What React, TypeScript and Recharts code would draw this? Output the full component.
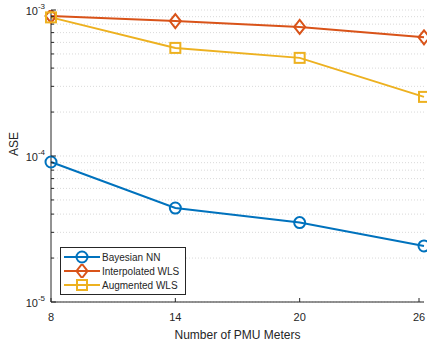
import { LineChart, Line, XAxis, YAxis, CartesianGrid, Legend } from "recharts"

const meters = [8, 14, 20, 26]
const bayesianNN = [9.1e-5, 4.4e-5, 3.5e-5, 2.42e-5]
const interpolatedWLS = [9.1e-4, 8.4e-4, 7.65e-4, 6.5e-4]
const augmentedWLS = [8.9e-4, 5.5e-4, 4.7e-4, 2.54e-4]

const yTicks = [
  1e-5, 2e-5, 3e-5, 4e-5, 5e-5, 6e-5, 7e-5, 8e-5, 9e-5,
  1e-4, 2e-4, 3e-4, 4e-4, 5e-4, 6e-4, 7e-4, 8e-4, 9e-4,
  1e-3,
]
const majorTicks = [1e-5, 1e-4, 1e-3]

const BLUE = "#0072BD"
const ORANGE = "#D95319"
const YELLOW = "#EDB120"
const AXIS = "#262626"
const FONT = "'Liberation Sans', Arial, sans-serif"

const data = meters.map((m, i) => ({
  meters: m,
  bnn: bayesianNN[i],
  iwls: interpolatedWLS[i],
  awls: augmentedWLS[i],
}))

function isMajor(v: number) {
  return majorTicks.some((t) => Math.abs(t - v) / t < 1e-6)
}

function Marker({ shape, cx, cy, color }: { shape: string; cx: number; cy: number; color: string }) {
  if (shape === "circle") return <circle cx={cx} cy={cy} r={5.5} fill="none" stroke={color} strokeWidth={2} />
  if (shape === "diamond")
    return (
      <polygon
        points={`${cx},${cy - 7} ${cx + 5.5},${cy} ${cx},${cy + 7} ${cx - 5.5},${cy}`}
        fill="none"
        stroke={color}
        strokeWidth={2}
      />
    )
  return <rect x={cx - 5} y={cy - 5} width={10} height={10} fill="none" stroke={color} strokeWidth={2} />
}

const dotFor = (shape: string, color: string) => (props: any) =>
  <Marker key={`${shape}-${props.index}`} shape={shape} cx={props.cx} cy={props.cy} color={color} />

function LeftTick(props: any) {
  const { x, y, payload } = props
  const major = isMajor(payload.value)
  const exp = Math.round(Math.log10(payload.value))
  return (
    <g>
      <line x1={x} x2={x + (major ? 5 : 3)} y1={y} y2={y} stroke={AXIS} strokeWidth={1} />
      {major && (
        <text x={x - 6} y={y + 5} textAnchor="end" fontSize={11} fill={AXIS} fontFamily={FONT}>
          10
          <tspan dy={-6} fontSize={8}>
            {exp}
          </tspan>
        </text>
      )}
    </g>
  )
}

function RightTick(props: any) {
  const { x, y, payload } = props
  const major = isMajor(payload.value)
  return <line x1={x} x2={x - (major ? 5 : 3)} y1={y} y2={y} stroke={AXIS} strokeWidth={1} />
}

function BottomTick(props: any) {
  const { x, y, payload } = props
  return (
    <g>
      <line x1={x} x2={x} y1={y} y2={y - 4} stroke={AXIS} strokeWidth={1} />
      <text x={x} y={y + 19} textAnchor="middle" fontSize={11} fill={AXIS} fontFamily={FONT}>
        {payload.value}
      </text>
    </g>
  )
}

function TopTick(props: any) {
  const { x, y } = props
  return <line x1={x} x2={x} y1={y} y2={y + 4} stroke={AXIS} strokeWidth={1} />
}

const legendItems = [
  { name: "Bayesian NN", color: BLUE, shape: "circle" },
  { name: "Interpolated WLS", color: ORANGE, shape: "diamond" },
  { name: "Augmented WLS", color: YELLOW, shape: "square" },
]

function LegendBox() {
  return (
    <div
      style={{
        border: `1px solid ${AXIS}`,
        background: "white",
        padding: "2px 6px 2px 3px",
        fontFamily: FONT,
        fontSize: 10,
        color: AXIS,
      }}
    >
      {legendItems.map((item) => (
        <div key={item.name} style={{ display: "flex", alignItems: "center", height: 14 }}>
          <svg width={36} height={14} style={{ marginRight: 2 }}>
            <line x1={0} x2={36} y1={7} y2={7} stroke={item.color} strokeWidth={2} />
            <Marker shape={item.shape} cx={18} cy={7} color={item.color} />
          </svg>
          <span>{item.name}</span>
        </div>
      ))}
    </div>
  )
}

export default function App() {
  return (
    <div style={{ position: "absolute", left: 0, top: 0, width: 427, height: 341, background: "white" }}>
      <LineChart width={427} height={341} data={data} margin={{ top: 10, right: 3, bottom: 0, left: 0 }}>
        <CartesianGrid vertical={false} stroke="#d9d9d9" strokeDasharray="1 2" />
        <XAxis
          dataKey="meters"
          type="number"
          domain={[8, 26]}
          ticks={meters}
          height={39}
          stroke={AXIS}
          tickLine={false}
          tickSize={0}
          tickMargin={0}
          tick={<BottomTick />}
          label={{ value: "Number of PMU Meters", position: "insideBottom", offset: 2, fill: AXIS, fontSize: 12, fontFamily: FONT }}
        />
        <XAxis
          xAxisId="top"
          dataKey="meters"
          type="number"
          orientation="top"
          domain={[8, 26]}
          ticks={meters}
          height={0}
          stroke={AXIS}
          tickLine={false}
          tickSize={0}
          tickMargin={0}
          tick={<TopTick />}
        />
        <YAxis
          scale="log"
          type="number"
          domain={[1e-5, 1e-3]}
          allowDataOverflow
          ticks={yTicks}
          interval={0}
          width={51}
          stroke={AXIS}
          tickLine={false}
          tickSize={0}
          tickMargin={0}
          tick={<LeftTick />}
          label={{ value: "ASE", angle: -90, position: "insideLeft", offset: 14, fill: AXIS, fontSize: 12, fontFamily: FONT }}
        />
        <YAxis
          yAxisId="right"
          orientation="right"
          scale="log"
          type="number"
          domain={[1e-5, 1e-3]}
          allowDataOverflow
          ticks={yTicks}
          interval={0}
          width={0}
          stroke={AXIS}
          tickLine={false}
          tickSize={0}
          tickMargin={0}
          tick={<RightTick />}
        />
        <Legend
          layout="vertical"
          align="center"
          verticalAlign="middle"
          content={() => <LegendBox />}
          wrapperStyle={{ position: "absolute", left: 60, top: 247, width: "auto" }}
        />
        <Line dataKey="bnn" name="Bayesian NN" stroke={BLUE} strokeWidth={2} dot={dotFor("circle", BLUE)} isAnimationActive={false} />
        <Line dataKey="iwls" name="Interpolated WLS" stroke={ORANGE} strokeWidth={2} dot={dotFor("diamond", ORANGE)} isAnimationActive={false} />
        <Line dataKey="awls" name="Augmented WLS" stroke={YELLOW} strokeWidth={2} dot={dotFor("square", YELLOW)} isAnimationActive={false} />
      </LineChart>
    </div>
  )
}
